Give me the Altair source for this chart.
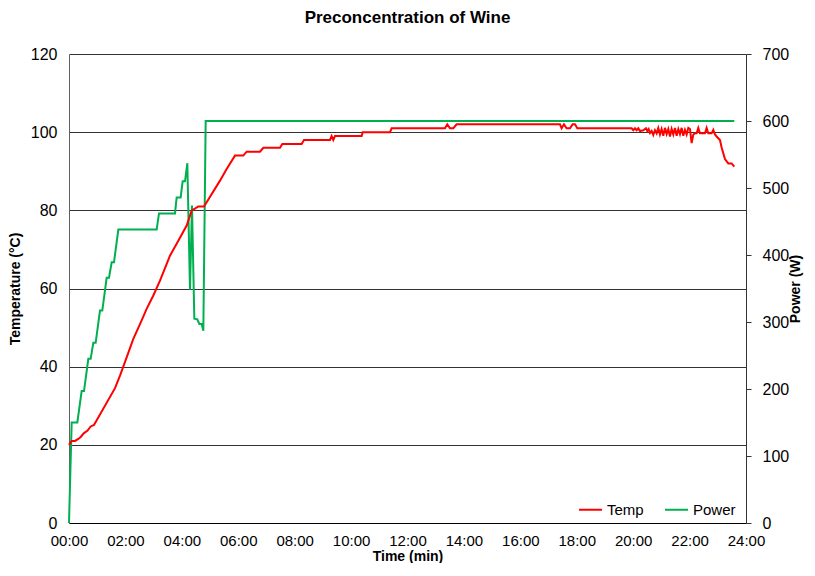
import altair as alt
import pandas as pd

# ---- data ----
temp_t = [0.00, 0.095, 0.213, 0.331, 0.414, 0.532, 0.650, 0.768, 0.886, 1.631, 1.808, 2.044,
          2.280, 2.517, 2.753, 2.989, 3.226, 3.580, 3.876, 4.171, 4.348, 4.585, 4.786, 5.353,
          5.589, 5.884, 6.180, 6.298, 6.771, 6.889, 7.480, 7.562, 8.248, 8.331, 9.252, 9.311,
          9.370, 9.429, 10.375, 10.410, 11.379, 11.438, 13.329, 13.411, 13.506, 13.624, 13.742,
          17.405, 17.464, 17.547, 17.642, 17.760, 17.854, 17.937, 18.020, 19.946,
          20.005, 20.064, 20.123, 20.182, 20.241, 20.359, 20.454, 20.501, 20.549, 20.596,
          20.655, 20.714, 20.773, 20.832, 20.891, 20.950, 21.009, 21.068, 21.127, 21.187,
          21.246, 21.305, 21.364, 21.423, 21.482, 21.541, 21.600, 21.659, 21.718, 21.777,
          21.836, 21.896, 21.955, 22.014, 22.073, 22.132, 22.191, 22.250, 22.309, 22.368,
          22.427, 22.545, 22.604, 22.663, 22.782, 22.841, 22.900, 22.959, 23.077, 23.136,
          23.254, 23.372, 23.491, 23.585]
temp_v = [20, 21, 21, 21.5, 22, 23, 23.6, 24.7, 25.1, 34.5, 37.7, 42.4,
          47.1, 50.9, 54.8, 58.2, 62.0, 68.4, 72.2, 76.1, 79.9, 81, 81, 87.6,
          90.6, 94, 94, 95, 95, 96, 96, 97, 97, 98, 98, 99,
          98, 99, 99, 100, 100, 101, 101, 102, 101, 101, 102,
          102, 101, 102, 101, 101, 102, 102, 101, 101,
          100.5, 101, 100.5, 101, 100.3, 100.5, 101, 100.3, 100.8, 99.8,
          100.3, 99.3, 100.5, 99.7, 101.1, 99.4, 100.8, 99.1, 101.1, 99.5,
          100.8, 98.9, 100.8, 99.4, 101.1, 99.1, 100.8, 99.5, 101.1, 99.1,
          100.6, 99.4, 101.1, 100.8, 97.2, 99.4, 99.7, 99.7, 101.1, 99.7,
          99.7, 99.7, 101.1, 99.7, 99.7, 100.6, 99.4, 98.9, 98.0, 96.1,
          93.1, 92.0, 92.0, 91.2]

power_t = [0.00, 0.095, 0.295, 0.449, 0.532, 0.685, 0.768, 0.862, 0.945, 1.099, 1.181,
           1.335, 1.418, 1.513, 1.595, 1.749, 3.108, 3.190, 3.758, 3.817, 3.958, 4.029,
           4.112, 4.195, 4.289, 4.360, 4.443, 4.549, 4.620, 4.703, 4.762, 4.845, 23.585]
power_v = [0, 150, 150, 197, 197, 245, 245, 269, 269, 317, 317,
           366, 366, 389, 389, 438, 438, 462, 462, 486, 486, 510,
           510, 537, 348, 474, 305, 304, 297, 297, 287, 600, 600]

series = ["Temp", "Power"]
colors = ["#FF0000", "#00B050"]
x_ticks = list(range(0, 25, 2))
temp_ticks = list(range(0, 121, 20))
power_ticks = list(range(0, 701, 100))

temp_df = pd.DataFrame({"t": temp_t, "v": temp_v, "series": "Temp", "order": range(len(temp_t))})
power_df = pd.DataFrame({"t": power_t, "v": power_v, "series": "Power", "order": range(len(power_t))})

FONT = "Liberation Sans"

color_enc = alt.Color(
    "series:N",
    scale=alt.Scale(domain=series, range=colors),
    legend=alt.Legend(
        title=None, orient="none", direction="horizontal",
        legendX=509, legendY=443, symbolType="stroke", symbolSize=529,
        symbolStrokeWidth=2, labelFontSize=15, labelFont=FONT, labelColor="black",
        labelOffset=4, columnPadding=17, padding=0,
    ),
)

x_enc = alt.X(
    "t:Q",
    scale=alt.Scale(domain=[0, 24], nice=False, zero=False),
    axis=alt.Axis(
        values=x_ticks,
        labelExpr="(datum.value < 10 ? '0' : '') + datum.value + ':00'",
        labelOverlap=False, labelFlush=False, labelFontSize=15,
        grid=False, ticks=False, domainColor="black", domainWidth=1,
        title="Time (min)", labelPadding=10, titlePadding=1, titleFontSize=14,
    ),
)

temp_line = alt.Chart(temp_df).mark_line(strokeWidth=2, interpolate="linear").encode(
    x=x_enc,
    y=alt.Y(
        "v:Q",
        scale=alt.Scale(domain=[0, 120], nice=False),
        axis=alt.Axis(
            values=temp_ticks, grid=True, gridColor="#333333", gridWidth=1,
            ticks=False, domainColor="#606060", domainWidth=1,
            labelOverlap=False, labelFlush=False,
            title="Temperature (°C)", labelPadding=12, titlePadding=8,
        ),
    ),
    color=color_enc,
    order="order:Q",
)

power_line = alt.Chart(power_df).mark_line(strokeWidth=2, interpolate="linear").encode(
    x=x_enc,
    y=alt.Y(
        "v:Q",
        scale=alt.Scale(domain=[0, 700], nice=False),
        axis=alt.Axis(
            values=power_ticks, orient="right", grid=False,
            ticks=True, tickSize=5, tickColor="#333333", domainColor="#333333",
            domainWidth=1, labelOverlap=False, labelFlush=False,
            title="Power (W)", labelPadding=11, titlePadding=0,
            titleAngle=270, titleBaseline="top",
        ),
    ),
    color=color_enc,
    order="order:Q",
)

chart = (
    alt.layer(power_line, temp_line)
    .resolve_scale(y="independent")
    .properties(
        width=677,
        height=469,
        autosize=alt.AutoSizeParams(type="none"),
        padding={"left": 61, "top": 46, "right": 61, "bottom": 40},
        title=alt.TitleParams(
            "Preconcentration of Wine", fontSize=17, fontWeight="bold", font=FONT,
            anchor="middle", frame="group", offset=19, color="black",
        ),
    )
    .configure_view(stroke=None)
    .configure_axis(
        labelFont=FONT, labelFontSize=16, labelColor="black",
        titleFont=FONT, titleFontSize=14, titleFontWeight="bold", titleColor="black",
    )
)

chart.save("out.html", embed_options={"renderer": "svg", "actions": False})
